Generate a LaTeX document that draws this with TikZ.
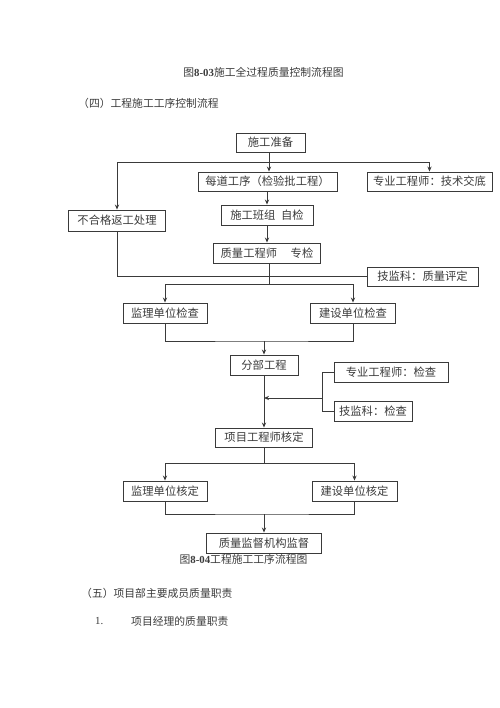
\documentclass[tikz,border=0pt]{standalone}
\usepackage{fontspec}
\setmainfont{Liberation Serif}
\newfontfamily\cjk{Noto Sans CJK SC}
\usetikzlibrary{arrows.meta}
\definecolor{ink}{HTML}{3A3A3A}
\begin{document}
\begin{tikzpicture}[x=1bp,y=-1bp,
  box/.style={draw=ink,line width=0.9bp,rectangle,inner sep=0pt,text=ink,
    font=\cjk\fontsize{11.3bp}{13bp}\selectfont},
  ln/.style={draw=ink,line width=0.9bp},
  arr/.style={ln,-{Stealth[length=5bp,width=4.2bp]}},
  txt/.style={text=ink,inner sep=0pt,font=\fontsize{10.8bp}{13bp}\selectfont}]
\useasboundingbox (0,0) rectangle (500,708);
% texts
\node[txt] (title) at (263.5,72) {{\cjk 图}\textbf{8-03}{\cjk 施工全过程质量控制流程图}};
\node[txt,anchor=west] (head4) at (78,103) {\cjk （四）工程施工工序控制流程};
\node[txt] (cap) at (243.5,559) {{\cjk 图}\textbf{8-04}{\cjk 工程施工工序流程图}};
\node[txt,anchor=west] (head5) at (81,593) {\cjk （五）项目部主要成员质量职责};
\node[txt,anchor=west] (num1) at (95,621) {1.};
\node[txt,anchor=west] (item1) at (131,621) {\cjk 项目经理的质量职责};
% boxes
\node[box,minimum width=69bp,minimum height=19bp] (prep) at (270.5,142.5) {施工准备};
\node[box,minimum width=139bp,minimum height=19bp] (each) at (267.5,181.5) {每道工序（检验批工程）};
\node[box,minimum width=125bp,minimum height=19bp] (tech) at (429.5,181.5) {专业工程师：技术交底};
\node[box,minimum width=97bp,minimum height=21bp] (rework) at (117,220.5) {不合格返工处理};
\node[box,minimum width=92bp,minimum height=20bp] (self) at (267,215) {施工班组\hspace{0.5em}自检};
\node[box,minimum width=107bp,minimum height=20bp] (qe) at (267,253) {质量工程师\hspace{1.2em}专检};
\node[box,minimum width=111bp,minimum height=19bp] (grade) at (422.5,276.5) {技监科：质量评定};
\node[box,minimum width=84bp,minimum height=20bp] (sup1) at (165,313) {监理单位检查};
\node[box,minimum width=85bp,minimum height=20bp] (own1) at (353,313) {建设单位检查};
\node[box,minimum width=68bp,minimum height=20bp] (sub) at (264,365) {分部工程};
\node[box,minimum width=114bp,minimum height=20bp] (pe) at (391,372) {专业工程师：检查};
\node[box,minimum width=78bp,minimum height=20bp] (tj) at (373,411) {技监科：检查};
\node[box,minimum width=97bp,minimum height=19bp] (pm) at (264,437.5) {项目工程师核定};
\node[box,minimum width=84bp,minimum height=20bp] (sup2) at (165,491) {监理单位核定};
\node[box,minimum width=85bp,minimum height=20bp] (own2) at (354.5,491) {建设单位核定};
\node[box,minimum width=115bp,minimum height=20bp] (qs) at (264,543) {质量监督机构监督};
% junctions
\coordinate (j1) at (269,162);
\coordinate (j2) at (269,284);
\coordinate (j3) at (264,341);
\coordinate (b) at (322,398);
\coordinate (j4) at (264,463);
\coordinate (j5) at (264,514);
% connectors
\draw[ln] (prep.south -| j1) -- (j1);
\draw[arr] (j1) -- (j1 |- each.north);
\draw[arr] (j1) -| (rework.north);
\draw[arr] (j1) -| (tech.north);
\draw[arr] (each.south -| self.north) -- (self.north);
\draw[arr] (self.south) -- (qe.north);
\draw[ln] (rework.south) |- (grade.west);
\draw[ln] (qe.south -| j2) -- (j2);
\draw[arr] (j2) -| (sup1.north);
\draw[arr] (j2) -| (own1.north);
\draw[ln] (sup1.south) |- (j3) -| (own1.south);
\draw[arr] (j3) -- (sub.north);
\draw[arr] (sub.south) -- (pm.north);
\draw[ln] (pe.west) -| (b);
\draw[ln] (tj.west) -| (b);
\draw[arr] (b) -- (b -| sub.south);
\draw[ln] (pm.south) -- (j4);
\draw[arr] (j4) -| (sup2.north);
\draw[arr] (j4) -| (own2.north);
\draw[ln] (sup2.south) |- (j5) -| (own2.south);
\draw[arr] (j5) -- (qs.north);
\end{tikzpicture}
\end{document}
